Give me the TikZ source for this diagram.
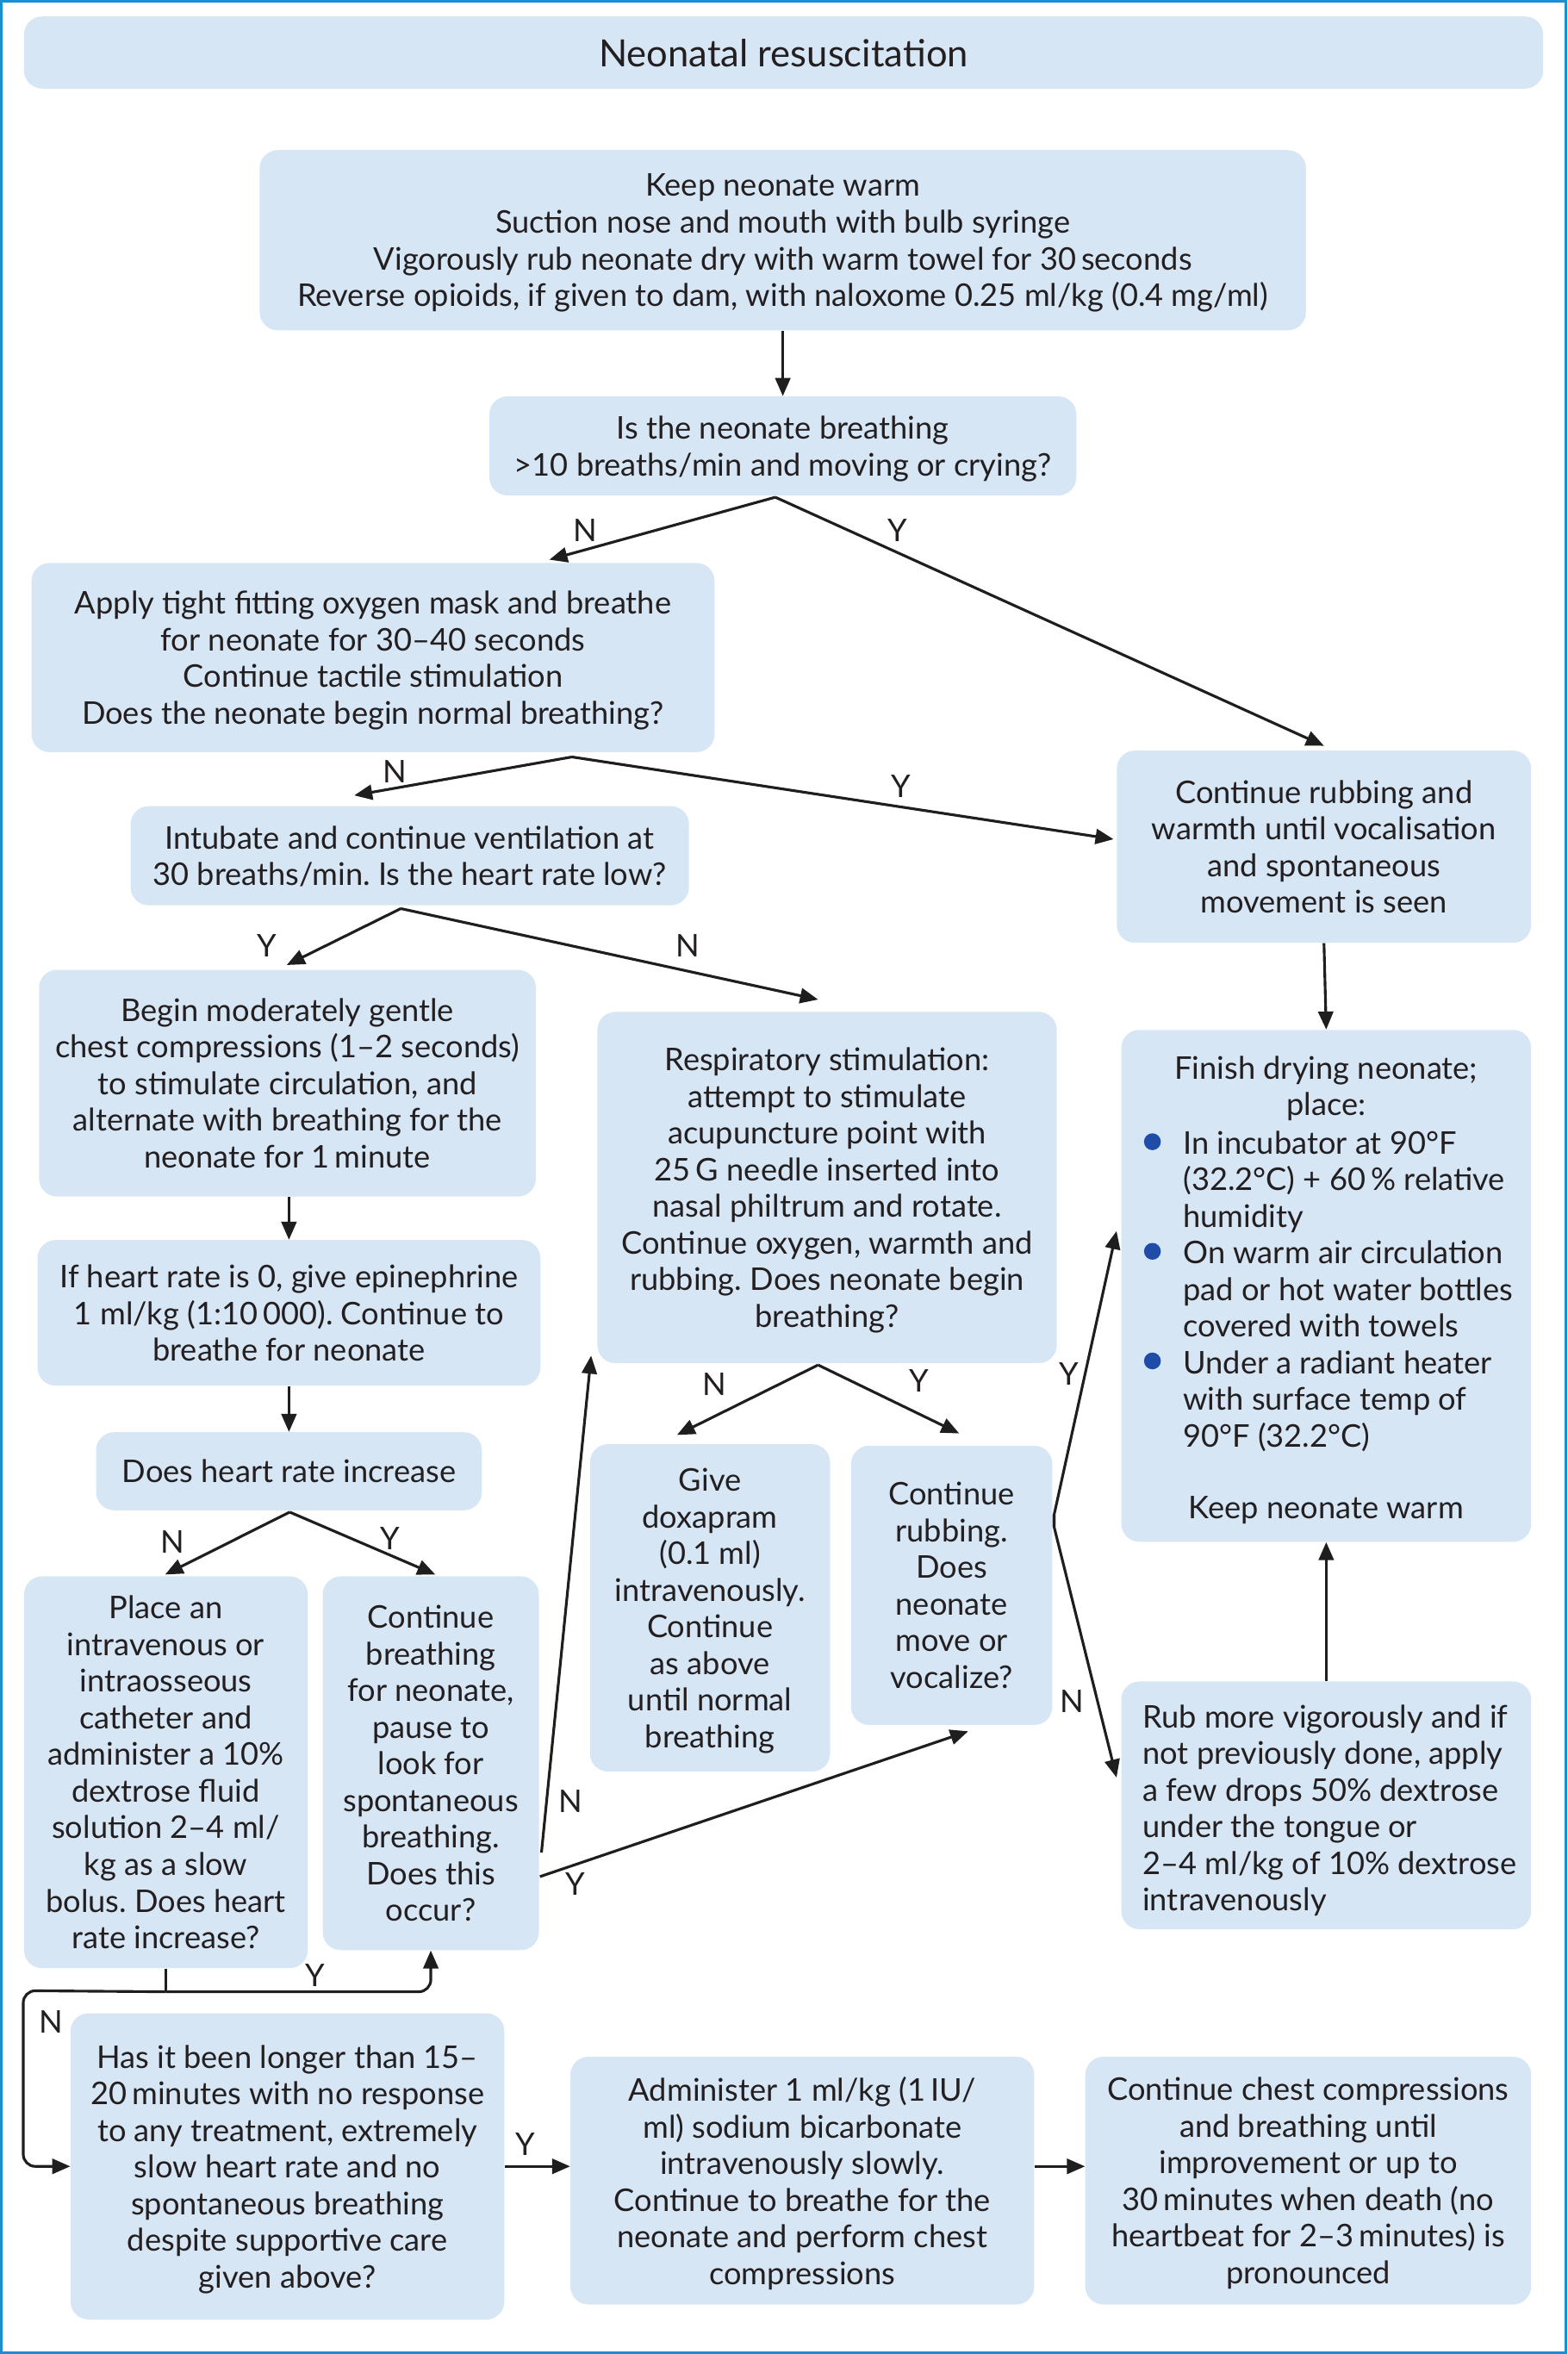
\documentclass[tikz,border=0pt]{standalone}
\usepackage{fontspec}
\setmainfont{Lato}
\usetikzlibrary{arrows.meta,calc}
\definecolor{boxfill}{HTML}{D6E6F5}
\definecolor{framecol}{HTML}{1C8CD3}
\definecolor{bulletcol}{HTML}{1F4CA6}
\definecolor{linecol}{HTML}{1E1E1E}
\definecolor{textcol}{HTML}{231F20}
\newcommand\bodyfont{\fontsize{20.8}{24.4}\selectfont}
\newcommand\titlefont{\fontsize{25}{28}\selectfont}
\frenchspacing
\tikzset{
  box/.style={fill=boxfill, rounded corners=12pt, align=center, inner sep=0pt,
    font=\bodyfont, text=textcol, text depth=0pt},
  txt/.style={inner sep=0pt, font=\bodyfont, text=textcol},
  lbl/.style={inner sep=0pt, font=\bodyfont, text=textcol},
  conn/.style={line width=1.8pt, draw=linecol},
  arr/.style={conn, -{Triangle[length=12pt,width=10pt]}},
}
\begin{document}
\begin{tikzpicture}[x=1pt,y=-1pt]
\useasboundingbox (0,0) rectangle (1044,1568);
\draw[framecol, line width=2pt] (1,1) rectangle (1043,1567);

% boxes
\node[box, minimum width=1012pt, minimum height=48pt, font=\titlefont] (B0) at (522,35) {Neonatal resuscitation};
\node[box, minimum width=697pt, minimum height=120pt] (B1) at (521.5,160) {Keep neonate warm\\Suction nose and mouth with bulb syringe\\Vigorously rub neonate dry with warm towel for 30\,seconds\\Reverse opioids, if given to dam, with naloxome 0.25 ml/kg (0.4 mg/ml)};
\node[box, minimum width=391pt, minimum height=66pt] (B2) at (521.5,297) {Is the neonate breathing\\>10 breaths/min and moving or crying?};
\node[box, minimum width=455pt, minimum height=126pt] (B3) at (248.5,438) {Apply tight fitting oxygen mask and breathe\\for neonate for 30--40 seconds\\Continue tactile stimulation\\Does the neonate begin normal breathing?};
\node[box, minimum width=276pt, minimum height=128pt] (B4) at (882,564) {Continue rubbing and\\warmth until vocalisation\\and spontaneous\\movement is seen};
\node[box, minimum width=372pt, minimum height=66pt] (B5) at (273,570) {Intubate and continue ventilation at\\30 breaths/min. Is the heart rate low?};
\node[box, minimum width=331pt, minimum height=151pt] (B6) at (191.5,721.5) {Begin moderately gentle\\chest compressions (1--2 seconds)\\to stimulate circulation, and\\alternate with breathing for the\\neonate for 1\,minute};
\node[box, minimum width=306pt, minimum height=234pt] (B7) at (551,791) {Respiratory stimulation:\\attempt to stimulate\\acupuncture point with\\25\,G needle inserted into\\nasal philtrum and rotate.\\Continue oxygen, warmth and\\rubbing. Does neonate begin\\breathing?};
\node[box, minimum width=273pt, minimum height=341pt] (B8) at (883.5,856.5) {};
\node[box, minimum width=335pt, minimum height=97pt] (B9) at (192.5,874.5) {If heart rate is 0, give epinephrine\\1 ml/kg (1:10\,000). Continue to\\breathe for neonate};
\node[box, minimum width=257pt, minimum height=52pt] (B10) at (192.5,980) {Does heart rate increase};
\node[box, minimum width=160pt, minimum height=218pt] (B11) at (473,1071) {Give\\doxapram\\(0.1 ml)\\intravenously.\\Continue\\as above\\until normal\\breathing};
\node[box, minimum width=134pt, minimum height=186pt] (B12) at (634,1056) {Continue\\rubbing.\\Does\\neonate\\move or\\vocalize?};
\node[box, minimum width=189pt, minimum height=261pt] (B13) at (110.5,1180.5) {Place an\\intravenous or\\intraosseous\\catheter and\\administer a 10\%\\dextrose fluid\\solution 2--4 ml/\\kg as a slow\\bolus. Does heart\\rate increase?};
\node[box, minimum width=144pt, minimum height=249pt] (B14) at (287,1174.5) {Continue\\breathing\\for neonate,\\pause to\\look for\\spontaneous\\breathing.\\Does this\\occur?};
\node[box, minimum width=273pt, minimum height=165pt] (B15) at (883.5,1202.5) {};
\node[txt, align=left, anchor=west] (B15t) at (761,1206) {Rub more vigorously and if\\not previously done, apply\\a few drops 50\% dextrose\\under the tongue or\\2--4 ml/kg of 10\% dextrose\\intravenously};
\node[box, minimum width=289pt, minimum height=204pt] (B16) at (191.5,1443) {Has it been longer than 15--\\20\,minutes with no response\\to any treatment, extremely\\slow heart rate and no\\spontaneous breathing\\despite supportive care\\given above?};
\node[box, minimum width=309pt, minimum height=165pt] (B17) at (534.5,1452.5) {Administer 1 ml/kg (1\,IU/\\ml) sodium bicarbonate\\intravenously slowly.\\Continue to breathe for the\\neonate and perform chest\\compressions};
\node[box, minimum width=297pt, minimum height=165pt] (B18) at (871.5,1452.5) {Continue chest compressions\\and breathing until\\improvement or up to\\30\,minutes when death (no\\heartbeat for 2--3\,minutes) is\\pronounced};

% B8 contents
\node[txt, align=center] (B8a) at (883.5,725) {Finish drying neonate;\\place:};
\node[txt, align=left, anchor=west] (B8b) at (788,860) {In incubator at 90°F\\(32.2°C) + 60\,\% relative\\humidity\\On warm air circulation\\pad or hot water bottles\\covered with towels\\Under a radiant heater\\with surface temp of\\90°F (32.2°C)};
\node[txt] (B8c) at (883.5,1006) {Keep neonate warm};
\fill[bulletcol] (767.7,760.5) circle (5.6pt);
\fill[bulletcol] (767.7,833.5) circle (5.6pt);
\fill[bulletcol] (767.7,906.5) circle (5.6pt);

% connectors
\draw[arr] (B1.south) -- (B2.north);

\coordinate (s2) at ($(B2.south)+(-5,1)$);
\draw[arr] (s2) -- ($(B3.north)+(117.5,-2)$);
\draw[arr] (s2) -- ($(B4.north)+(0,-3)$);
\node[lbl] (l2n) at (390,353) {N};
\node[lbl] (l2y) at (598,353) {Y};

\coordinate (s3) at ($(B3.south)+(132.5,3)$);
\draw[arr] (s3) -- ($(B5.north)+(-37,-7)$);
\draw[arr] (s3) -- ($(B4.west)+(-2,-5)$);
\node[lbl] (l3n) at (263,514) {N};
\node[lbl] (l3y) at (600,524) {Y};

\coordinate (s5) at ($(B5.south)+(-6,2)$);
\draw[arr] (s5) -- ($(B6.north)+(-0.5,-3)$);
\draw[arr] (s5) -- ($(B7.north)+(-6,-8)$);
\node[lbl] (l5y) at (178,630) {Y};
\node[lbl] (l5n) at (458,630) {N};

\draw[arr] (B4.south) -- (B8.north);
\draw[arr] (B6.south -| B9.north) -- (B9.north);
\draw[arr] (B9.south) -- (B10.north);

\coordinate (s10) at ($(B10.south)+(0.5,1)$);
\draw[arr] (s10) -- ($(B13.north)+(-0.5,-1)$);
\draw[arr] (s10) -- ($(B14.north)+(3,-1)$);
\node[lbl] (l10n) at (115,1027) {N};
\node[lbl] (l10y) at (260,1025) {Y};

\coordinate (s7) at ($(B7.south)+(-6,1)$);
\draw[arr] (s7) -- ($(B11.north)+(-22,-6)$);
\draw[arr] (s7) -- ($(B12.north)+(5,-8)$);
\node[lbl] (l7n) at (476,922) {N};
\node[lbl] (l7y) at (612,920) {Y};

\coordinate (k1) at ($(B12.east)+(1,-47)$);
\coordinate (k2) at ($(B12.east)+(1,-39)$);
\draw[arr] (k2) -- (k1) -- ($(B8.west)+(-3,-36.5)$);
\draw[arr] (k1) -- (k2) -- ($(B15.west)+(-3,-18.5)$);
\node[lbl] (l12y) at (712,915) {Y};
\node[lbl] (l12n) at (714,1133) {N};

\draw[arr] ($(B14.east)+(1.5,59.5)$) -- ($(B7.west)+(-4,112)$);
\draw[arr] ($(B14.east)+(0.5,75.5)$) -- ($(B12.south)+(11,4)$);
\node[lbl] (l14n) at (380,1200) {N};
\node[lbl] (l14y) at (383,1255) {Y};

\draw[arr] (B15.north) -- (B8.south);

\draw[conn] (B13.south) -- ++(0,15.5) coordinate (j1);
\draw[arr, rounded corners=8pt] (j1) -- (j1 -| B14.south) -- (B14.south);
\draw[arr, rounded corners=8pt] (j1) -- (15.5,1326) -- (15.5,1443) -- (B16.west);
\node[lbl] (l13y) at (210,1316) {Y};
\node[lbl] (l13n) at (34,1347) {N};

\draw[arr] (B16.east) -- (B16.east -| B17.west);
\node[lbl] (l16y) at (350,1428) {Y};
\draw[arr] ($(B17.east)+(0,-9.5)$) -- ($(B18.west)+(0,-9.5)$);
\end{tikzpicture}
\end{document}
